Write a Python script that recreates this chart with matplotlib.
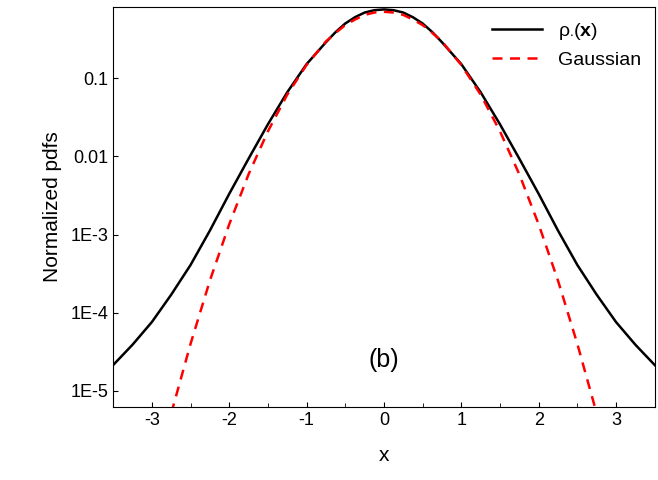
import numpy as np
import matplotlib.pyplot as plt

plt.rcParams['font.family'] = ['Liberation Sans', 'DejaVu Sans']
plt.rcParams['mathtext.fontset'] = 'custom'
plt.rcParams['mathtext.rm'] = 'Liberation Sans'
plt.rcParams['mathtext.it'] = 'Liberation Sans'
plt.rcParams['mathtext.bf'] = 'Liberation Sans:bold'
plt.rcParams['axes.unicode_minus'] = False

# half-curves (x >= 0), log10 of pdf, mirrored for x < 0
x_half = [0, 0.125, 0.25, 0.375, 0.5, 0.625, 0.75, 1.0, 1.25, 1.5, 1.75, 2.0, 2.25, 2.5, 2.75, 3.0, 3.25, 3.5]
rho_log = [-0.12, -0.13, -0.16, -0.22, -0.30, -0.41, -0.54, -0.82, -1.18, -1.59, -2.03, -2.48, -2.95, -3.39, -3.77, -4.12, -4.41, -4.67]
gauss_log = [-0.15, -0.16, -0.19, -0.25, -0.32, -0.42, -0.53, -0.83, -1.21, -1.68, -2.23, -2.87, -3.59, -4.40, -5.29, -6.26, -7.3, -8.4]

xh = np.array(x_half)
x = np.concatenate([-xh[::-1], xh[1:]])
rho = 10 ** np.concatenate([np.array(rho_log)[::-1], np.array(rho_log)[1:]])
gau = 10 ** np.concatenate([np.array(gauss_log)[::-1], np.array(gauss_log)[1:]])

fig, ax = plt.subplots(figsize=(6.58, 4.8), dpi=100)
fig.subplots_adjust(left=0.172, right=0.995, top=0.985, bottom=0.152)
ax.plot(x, rho, color='black', lw=1.8, label=r'$\rho_{\bullet}(\mathbf{x})$')
ax.plot(x, gau, color='red', lw=1.8, ls=(0, (4, 3)), label='Gaussian')
ax.set_yscale('log')
ax.set_xlim(-3.5, 3.5)
ax.set_ylim(6.2e-6, 0.81)
ax.set_xticks([-3, -2, -1, 0, 1, 2, 3])
ax.set_yticks([1e-5, 1e-4, 1e-3, 0.01, 0.1])
ax.set_yticklabels(['1E-5', '1E-4', '1E-3', '0.01', '0.1'])
ax.minorticks_off()
ax.set_xticks(np.arange(-3.5, 3.6, 0.5), minor=True)
ax.tick_params(which='both', direction='in', labelsize=13)
ax.tick_params(which='minor', length=3)
ax.set_xlabel('x', fontsize=15, labelpad=12)
ax.set_ylabel('Normalized pdfs', fontsize=15, labelpad=6)
ax.text(0.5, 0.1, '(b)', transform=ax.transAxes, ha='center', fontsize=18)
ax.legend(loc='upper right', frameon=False, fontsize=14, handlelength=2.6,
          borderaxespad=0.5, borderpad=0.2)
fig.savefig('out.png')
